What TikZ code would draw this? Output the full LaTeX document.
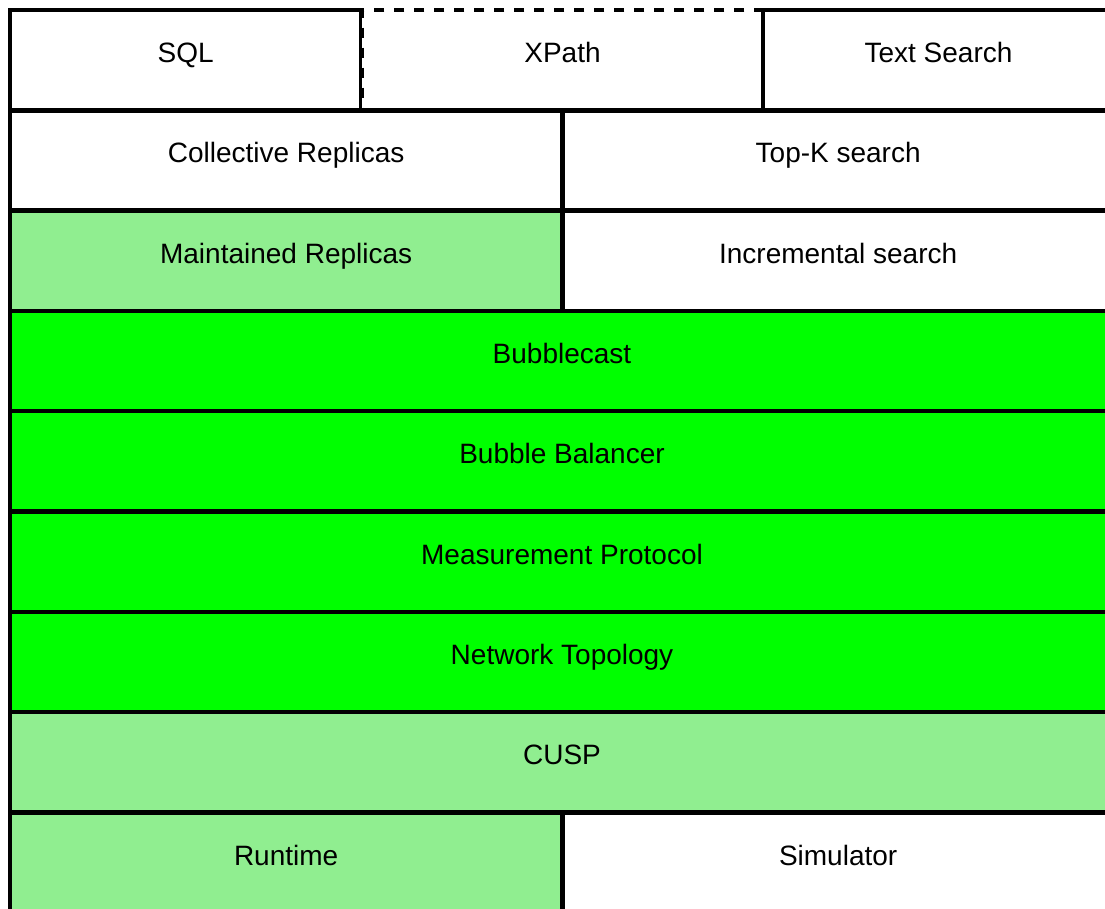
\documentclass[tikz,border=0pt]{standalone}
\usepackage{fontspec}
\setmainfont{Liberation Sans}
\begin{document}
\begin{tikzpicture}[x=1pt,y=-1pt,
  layer/.style={draw=black, line width=4.5pt, fill=white, inner sep=0pt,
    minimum height=100.3pt, text height=20pt, text depth=15pt,
    font=\fontsize{28}{33}\selectfont},
  planned/.style={layer, dash pattern=on 10pt off 10pt},
  soft/.style={fill=lightgreen},
  core/.style={fill=brightgreen}]
\definecolor{lightgreen}{HTML}{90EE90}
\definecolor{brightgreen}{HTML}{00FF00}
\useasboundingbox (0,0) rectangle (1105,909);
\clip (0,0) rectangle (1105,909);
% query languages
\node[layer, minimum width=351.5pt] (sql) at (185.75,60.15) {SQL};
\node[planned, minimum width=401pt] (xpath) at (562.5,60.15) {XPath};
\node[layer, minimum width=351pt] (text) at (938.5,60.15) {Text Search};
% search and replication
\node[layer, minimum width=552.3pt] (coll) at (286.15,160.45) {Collective Replicas};
\node[layer, minimum width=551.7pt] (topk) at (838.15,160.45) {Top-K search};
\node[layer, soft, minimum width=552.3pt] (maint) at (286.15,260.75) {Maintained Replicas};
\node[layer, minimum width=551.7pt] (incr) at (838.15,260.75) {Incremental search};
% bubble layers
\node[layer, core, minimum width=1104pt] (bcast) at (562,361.05) {Bubblecast};
\node[layer, core, minimum width=1104pt] (bal) at (562,461.35) {Bubble Balancer};
\node[layer, core, minimum width=1104pt] (meas) at (562,561.65) {Measurement Protocol};
\node[layer, core, minimum width=1104pt] (topo) at (562,661.95) {Network Topology};
% platform
\node[layer, soft, minimum width=1104pt] (cusp) at (562,762.25) {CUSP};
\node[layer, soft, minimum width=552.3pt] (run) at (286.15,862.55) {Runtime};
\node[layer, minimum width=551.7pt] (sim) at (838.15,862.55) {Simulator};
\end{tikzpicture}
\end{document}
